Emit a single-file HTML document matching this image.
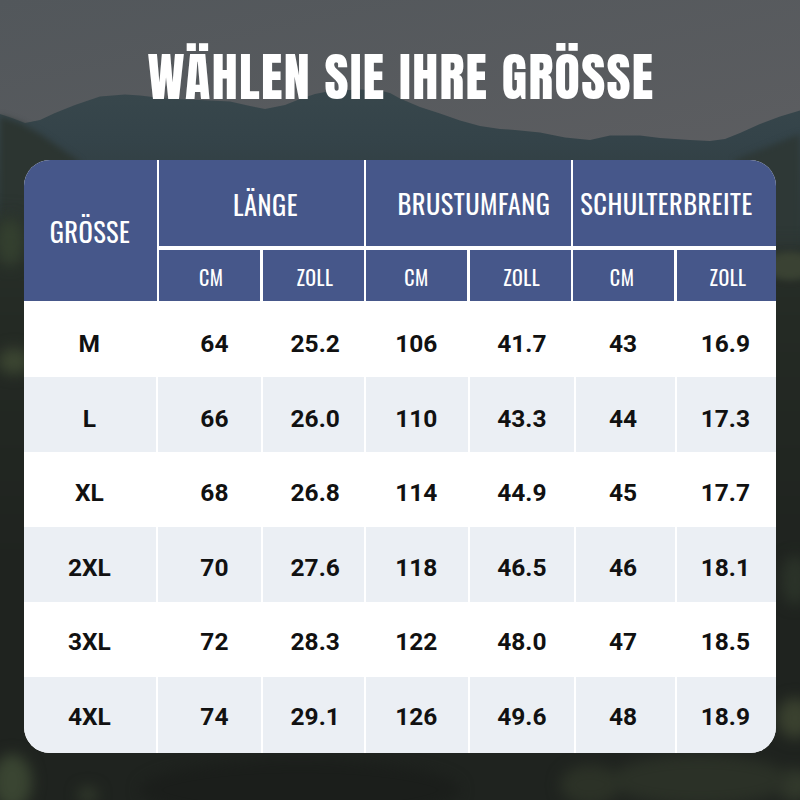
<!DOCTYPE html>
<html><head><meta charset="utf-8">
<style>
*{margin:0;padding:0;box-sizing:border-box}
html,body{width:800px;height:800px;overflow:hidden}
body{position:relative;background:#252a24;font-family:"Liberation Sans",sans-serif}
#bg{position:absolute;left:0;top:0;width:800px;height:800px}
h1{position:absolute;left:-199px;top:0;width:1200px;text-align:center;font-family:"Anton","Liberation Sans",sans-serif;font-weight:400;color:#fff;font-size:52px;line-height:60px;letter-spacing:1.33px;white-space:nowrap}
#tbl{position:absolute;left:24px;top:160px;width:752px;height:593px;border-radius:26px;overflow:hidden;background:#fff}
#in{position:absolute;left:-24px;top:-160px;width:800px;height:800px}
.r{position:absolute}
.t{position:absolute;width:400px;height:40px;line-height:40px;text-align:center;white-space:nowrap}
.h1{color:#fff;font-family:"Oswald","Liberation Sans",sans-serif;font-weight:400;font-variation-settings:'wght' 340;font-size:26.5px;letter-spacing:0.45px}
.h2{color:#fff;font-family:"Oswald","Liberation Sans",sans-serif;font-weight:400;font-variation-settings:'wght' 340;font-size:20px;letter-spacing:0.5px}
.d{color:#111;font-family:"Roboto","Liberation Sans",sans-serif;font-weight:700;font-size:24.5px}
.noanton h1{font-family:"Liberation Sans",sans-serif;font-weight:700;font-size:66.4px;letter-spacing:0;transform:scaleX(0.564);-webkit-text-stroke:2px #fff}
.nooswald .h1{font-family:"Liberation Sans",sans-serif;font-weight:400;font-size:33px;letter-spacing:0;transform:scaleX(0.575);-webkit-text-stroke:0.3px #fff}
.nooswald .h2{font-family:"Liberation Sans",sans-serif;font-weight:400;font-size:23px;letter-spacing:0;transform:scaleX(0.64);-webkit-text-stroke:0.25px #fff}
</style>
<script>
(function(){
function has(f){var c=document.createElement('canvas').getContext('2d');var s='WÄHLEN SIE GRÖSSE 0123456789 mwi';
c.font='40px monospace';var a=c.measureText(s).width;c.font='40px "'+f+'", monospace';var b=c.measureText(s).width;
c.font='40px serif';var a2=c.measureText(s).width;c.font='40px "'+f+'", serif';var b2=c.measureText(s).width;
return a!==b||a2!==b2;}
var cl=document.documentElement.classList;
try{if(!has('Anton'))cl.add('noanton');if(!has('Oswald'))cl.add('nooswald');}catch(e){}
})();
</script>
</head><body>
<svg id="bg" width="800" height="800" viewBox="0 0 800 800">
<defs>
<linearGradient id="sky" x1="0" y1="0" x2="1" y2="1">
<stop offset="0" stop-color="#52575b"/><stop offset="1" stop-color="#5d5e61"/>
</linearGradient>
<linearGradient id="mtn" gradientUnits="userSpaceOnUse" x1="0" y1="90" x2="0" y2="260">
<stop offset="0" stop-color="#38474c"/><stop offset="0.3" stop-color="#344349"/><stop offset="1" stop-color="#2b3634"/>
</linearGradient>
<linearGradient id="forest" gradientUnits="userSpaceOnUse" x1="0" y1="200" x2="0" y2="800">
<stop offset="0" stop-color="#29312b"/><stop offset="0.2" stop-color="#242a24"/><stop offset="0.6" stop-color="#1f231f"/><stop offset="1" stop-color="#1f231f"/>
</linearGradient>
<filter id="bl" color-interpolation-filters="sRGB" x="-50%" y="-50%" width="200%" height="200%"><feGaussianBlur stdDeviation="7"/></filter>
<filter id="bl2" color-interpolation-filters="sRGB" x="-50%" y="-50%" width="200%" height="200%"><feGaussianBlur stdDeviation="3"/></filter>
<filter id="bl0" color-interpolation-filters="sRGB" x="-5%" y="-5%" width="110%" height="110%"><feGaussianBlur stdDeviation="0.7"/></filter>
<filter id="bl3" color-interpolation-filters="sRGB" x="-10%" y="-10%" width="120%" height="120%"><feGaussianBlur stdDeviation="10"/></filter>
</defs>
<rect width="800" height="170" fill="url(#sky)"/>
<path d="M-10,112 L0,114 L12,118 L25,123 L40,120 L55,113 L75,105 L100,96.5 L125,94.5 L140,95.5 L165,98.5 L200,100 L230,101.5 L250,106 L265,109 L285,105 L300,99 L315,94 L330,91 L360,89.5 L380,90.5 L390,93 L400,98.5 L420,107 L440,113.5 L460,120.5 L480,126 L500,129 L515,130 L540,132.5 L565,137.5 L590,140 L610,135.5 L640,135.5 L660,138 L690,140 L710,141 L725,139 L740,133 L760,124 L780,116.5 L800,110.5 L810,108 L810,400 L-10,400Z" fill="url(#mtn)" filter="url(#bl0)"/>
<path d="M0,116 L20,123 L40,134 L60,148 L80,162 L90,230 L0,230Z" fill="#2c3531" filter="url(#bl2)"/>
<path d="M735,160 L770,146 L800,134 L800,260 L735,260Z" fill="#2e3836" filter="url(#bl2)"/>
<path d="M-40,215 L120,225 L680,250 L840,250 L840,840 L-40,840Z" fill="url(#forest)" filter="url(#bl3)"/>
<g filter="url(#bl)">
<ellipse cx="10" cy="242" rx="14" ry="24" fill="#34402f"/>
<ellipse cx="14" cy="361" rx="16" ry="13" fill="#3c4632"/>
<ellipse cx="795" cy="580" rx="14" ry="25" fill="#2b3329"/>
<ellipse cx="795" cy="718" rx="18" ry="20" fill="#3a412f"/>
<ellipse cx="795" cy="785" rx="18" ry="16" fill="#32392c"/>
<ellipse cx="12" cy="782" rx="20" ry="28" fill="#3a4532"/>
<ellipse cx="88" cy="795" rx="10" ry="8" fill="#323a2c"/>
<ellipse cx="590" cy="785" rx="30" ry="20" fill="#2c3227"/>
<ellipse cx="700" cy="780" rx="90" ry="25" fill="#2b3127"/>
</g>
<ellipse cx="790" cy="266" rx="24" ry="14" fill="#3a4233" filter="url(#bl2)"/>
<ellipse cx="300" cy="790" rx="160" ry="30" fill="#1b1e1b" filter="url(#bl)"/>
</svg>
<h1 style="top:47px">WÄHLEN SIE IHRE GRÖSSE</h1>
<div id="tbl"><div id="in">
<div class="r" style="left:24px;top:160px;width:133px;height:141px;background:#46578a"></div>
<div class="r" style="left:159px;top:160px;width:205px;height:86px;background:#46578a"></div>
<div class="r" style="left:366px;top:160px;width:205px;height:86px;background:#46578a"></div>
<div class="r" style="left:573px;top:160px;width:203px;height:86px;background:#46578a"></div>
<div class="r" style="left:159px;top:250px;width:101px;height:51px;background:#46578a"></div>
<div class="r" style="left:263px;top:250px;width:101px;height:51px;background:#46578a"></div>
<div class="r" style="left:366px;top:250px;width:101px;height:51px;background:#46578a"></div>
<div class="r" style="left:470px;top:250px;width:101px;height:51px;background:#46578a"></div>
<div class="r" style="left:573px;top:250px;width:101px;height:51px;background:#46578a"></div>
<div class="r" style="left:677px;top:250px;width:99px;height:51px;background:#46578a"></div>
<div class="r" style="left:24px;top:377px;width:132px;height:75px;background:#ebeff4"></div>
<div class="r" style="left:158px;top:377px;width:103px;height:75px;background:#ebeff4"></div>
<div class="r" style="left:263px;top:377px;width:101px;height:75px;background:#ebeff4"></div>
<div class="r" style="left:366px;top:377px;width:102px;height:75px;background:#ebeff4"></div>
<div class="r" style="left:470px;top:377px;width:104px;height:75px;background:#ebeff4"></div>
<div class="r" style="left:576px;top:377px;width:99px;height:75px;background:#ebeff4"></div>
<div class="r" style="left:677px;top:377px;width:99px;height:75px;background:#ebeff4"></div>
<div class="r" style="left:24px;top:527px;width:132px;height:75px;background:#ebeff4"></div>
<div class="r" style="left:158px;top:527px;width:103px;height:75px;background:#ebeff4"></div>
<div class="r" style="left:263px;top:527px;width:101px;height:75px;background:#ebeff4"></div>
<div class="r" style="left:366px;top:527px;width:102px;height:75px;background:#ebeff4"></div>
<div class="r" style="left:470px;top:527px;width:104px;height:75px;background:#ebeff4"></div>
<div class="r" style="left:576px;top:527px;width:99px;height:75px;background:#ebeff4"></div>
<div class="r" style="left:677px;top:527px;width:99px;height:75px;background:#ebeff4"></div>
<div class="r" style="left:24px;top:677px;width:132px;height:76px;background:#ebeff4"></div>
<div class="r" style="left:158px;top:677px;width:103px;height:76px;background:#ebeff4"></div>
<div class="r" style="left:263px;top:677px;width:101px;height:76px;background:#ebeff4"></div>
<div class="r" style="left:366px;top:677px;width:102px;height:76px;background:#ebeff4"></div>
<div class="r" style="left:470px;top:677px;width:104px;height:76px;background:#ebeff4"></div>
<div class="r" style="left:576px;top:677px;width:99px;height:76px;background:#ebeff4"></div>
<div class="r" style="left:677px;top:677px;width:99px;height:76px;background:#ebeff4"></div>
<div class="t h1" style="left:-110.1px;top:211px">GRÖSSE</div>
<div class="t h1" style="left:65.5px;top:184.4px">LÄNGE</div>
<div class="t h1" style="left:273.9px;top:183.2px">BRUSTUMFANG</div>
<div class="t h1" style="left:466.5px;top:183.3px">SCHULTERBREITE</div>
<div class="t h2" style="left:11.25px;top:256.5px">CM</div>
<div class="t h2" style="left:115px;top:256.5px">ZOLL</div>
<div class="t h2" style="left:216.5px;top:256.5px">CM</div>
<div class="t h2" style="left:321.75px;top:256.5px">ZOLL</div>
<div class="t h2" style="left:422.1px;top:256.5px">CM</div>
<div class="t h2" style="left:528.1px;top:256.5px">ZOLL</div>
<div class="t d" style="left:-110.7px;top:324.1px">M</div>
<div class="t d" style="left:14.400000000000006px;top:324.1px">64</div>
<div class="t d" style="left:115.19999999999999px;top:324.1px">25.2</div>
<div class="t d" style="left:216.3px;top:324.1px">106</div>
<div class="t d" style="left:321.9px;top:324.1px">41.7</div>
<div class="t d" style="left:423.1px;top:324.1px">43</div>
<div class="t d" style="left:525.4px;top:324.1px">16.9</div>
<div class="t d" style="left:-110.7px;top:398.6px">L</div>
<div class="t d" style="left:14.400000000000006px;top:398.6px">66</div>
<div class="t d" style="left:115.19999999999999px;top:398.6px">26.0</div>
<div class="t d" style="left:216.3px;top:398.6px">110</div>
<div class="t d" style="left:321.9px;top:398.6px">43.3</div>
<div class="t d" style="left:423.1px;top:398.6px">44</div>
<div class="t d" style="left:525.4px;top:398.6px">17.3</div>
<div class="t d" style="left:-110.7px;top:473.1px">XL</div>
<div class="t d" style="left:14.400000000000006px;top:473.1px">68</div>
<div class="t d" style="left:115.19999999999999px;top:473.1px">26.8</div>
<div class="t d" style="left:216.3px;top:473.1px">114</div>
<div class="t d" style="left:321.9px;top:473.1px">44.9</div>
<div class="t d" style="left:423.1px;top:473.1px">45</div>
<div class="t d" style="left:525.4px;top:473.1px">17.7</div>
<div class="t d" style="left:-110.7px;top:547.6px">2XL</div>
<div class="t d" style="left:14.400000000000006px;top:547.6px">70</div>
<div class="t d" style="left:115.19999999999999px;top:547.6px">27.6</div>
<div class="t d" style="left:216.3px;top:547.6px">118</div>
<div class="t d" style="left:321.9px;top:547.6px">46.5</div>
<div class="t d" style="left:423.1px;top:547.6px">46</div>
<div class="t d" style="left:525.4px;top:547.6px">18.1</div>
<div class="t d" style="left:-110.7px;top:622.1px">3XL</div>
<div class="t d" style="left:14.400000000000006px;top:622.1px">72</div>
<div class="t d" style="left:115.19999999999999px;top:622.1px">28.3</div>
<div class="t d" style="left:216.3px;top:622.1px">122</div>
<div class="t d" style="left:321.9px;top:622.1px">48.0</div>
<div class="t d" style="left:423.1px;top:622.1px">47</div>
<div class="t d" style="left:525.4px;top:622.1px">18.5</div>
<div class="t d" style="left:-110.7px;top:696.6px">4XL</div>
<div class="t d" style="left:14.400000000000006px;top:696.6px">74</div>
<div class="t d" style="left:115.19999999999999px;top:696.6px">29.1</div>
<div class="t d" style="left:216.3px;top:696.6px">126</div>
<div class="t d" style="left:321.9px;top:696.6px">49.6</div>
<div class="t d" style="left:423.1px;top:696.6px">48</div>
<div class="t d" style="left:525.4px;top:696.6px">18.9</div>
</div></div>
</body></html>
